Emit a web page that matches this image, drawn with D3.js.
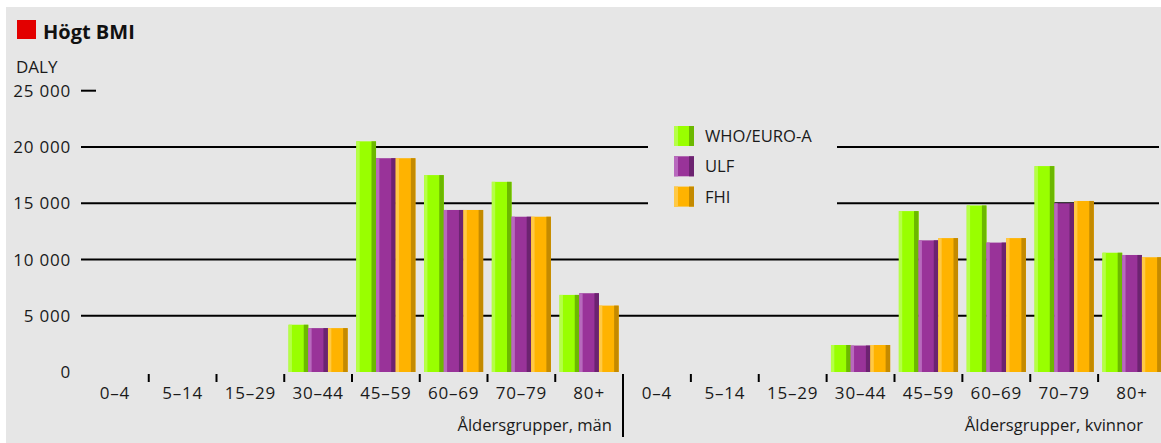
<!DOCTYPE html>
<html>
<head>
<meta charset="utf-8">
<script src="https://cdn.jsdelivr.net/npm/d3@7"></script>
<style>
  html, body { margin: 0; padding: 0; background: #ffffff; }
  svg { display: block; }
  text { font-family: "Open Sans", "Noto Sans", sans-serif; fill: #1a1a1a; }
  .num { letter-spacing: 0.8px; }
</style>
</head>
<body>
<svg id="chart" width="1161" height="443"></svg>
<script>
// Age groups shared by both panels
const ageGroups = ["0–4", "5–14", "15–29", "30–44", "45–59", "60–69", "70–79", "80+"];

// Series names shown in the legend
const seriesNames = ["WHO/EURO-A", "ULF", "FHI"];

// DALY attributable to high BMI, men
const menWHO = [0, 0, 0, 4200, 20500, 17500, 16900, 6850];
const menULF = [0, 0, 0, 3900, 19000, 14400, 13800, 7000];
const menFHI = [0, 0, 0, 3900, 19000, 14400, 13800, 5900];

// DALY attributable to high BMI, women
const womenWHO = [0, 0, 0, 2400, 14300, 14800, 18300, 10600];
const womenULF = [0, 0, 0, 2350, 11700, 11500, 15000, 10400];
const womenFHI = [0, 0, 0, 2400, 11900, 11900, 15200, 10200];

// Y axis ticks
const yTicks = [0, 5000, 10000, 15000, 20000, 25000];

// Panel titles
const panelTitles = ["Åldersgrupper, män", "Åldersgrupper, kvinnor"];

// Bar colours: [light edge, face, dark edge]
const palette = {
  "WHO/EURO-A": ["#b5ff47", "#99ff00", "#6cb800"],
  "ULF":        ["#b869bd", "#993399", "#6c2370"],
  "FHI":        ["#ffc945", "#ffb300", "#c48a00"]
};

const svg = d3.select("#chart");

// background panel
svg.append("rect")
  .attr("x", 6).attr("y", 7).attr("width", 1155).attr("height", 436)
  .attr("fill", "#e6e6e6");

// title
svg.append("rect").attr("x", 17).attr("y", 20).attr("width", 19).attr("height", 19).attr("fill", "#e30000");
svg.append("text").attr("x", 43).attr("y", 39)
  .style("font-size", "20px").style("font-weight", "700").style("fill", "#111")
  .text("Högt BMI");

svg.append("text").attr("x", 16).attr("y", 73).style("font-size", "17px").text("DALY");

// scales
const y = d3.scaleLinear().domain([0, 25000]).range([372, 90.7]);
const plotLeft = 81, divider = 623, plotRight = 1166;

const panels = [
  { range: [plotLeft, divider], values: [menWHO, menULF, menFHI], title: panelTitles[0] },
  { range: [divider, plotRight], values: [womenWHO, womenULF, womenFHI], title: panelTitles[1] }
];

const fmt = v => d3.format(",")(v).replace(/,/g, " ");

// legend area (gridlines are interrupted behind it)
const legendBox = { x0: 648, x1: 837, y0: 118, y1: 212 };

// y tick labels and gridlines
const grid = svg.append("g");
yTicks.forEach(t => {
  const yy = y(t);
  grid.append("text")
    .attr("class", "num")
    .attr("x", 71).attr("y", yy).attr("dy", "0.36em")
    .attr("text-anchor", "end").style("font-size", "17px")
    .text(fmt(t));
  if (t === 0) return;
  let segs;
  if (t === 25000) segs = [[plotLeft, 96]];
  else if (yy > legendBox.y0 && yy < legendBox.y1) segs = [[plotLeft, legendBox.x0], [legendBox.x1, 1159]];
  else segs = [[plotLeft, 1159]];
  segs.forEach(s => {
    grid.append("line")
      .attr("x1", s[0]).attr("x2", s[1]).attr("y1", yy).attr("y2", yy)
      .attr("stroke", "#000").attr("stroke-width", 2);
  });
});

// bars
panels.forEach((p, pi) => {
  const x0 = d3.scaleBand().domain(ageGroups).range(p.range);
  const x1 = d3.scaleBand().domain(seriesNames).range([0, x0.bandwidth()]).paddingOuter(0.22);
  const g = svg.append("g");

  ageGroups.forEach((age, ai) => {
    seriesNames.forEach((s, si) => {
      const v = p.values[si][ai];
      if (!v) return;
      const bx = x0(age) + x1(s);
      const bw = x1.bandwidth();
      const top = y(v), h = y(0) - y(v);
      const [lc, fc, dc] = palette[s];
      g.append("rect").attr("x", bx).attr("y", top).attr("width", bw).attr("height", h).attr("fill", fc);
      g.append("rect").attr("x", bx).attr("y", top).attr("width", bw * 0.17).attr("height", h).attr("fill", lc);
      g.append("rect").attr("x", bx + bw * 0.77).attr("y", top).attr("width", bw * 0.23).attr("height", h).attr("fill", dc);
    });
  });

  // category ticks between groups
  ageGroups.slice(1).forEach(age => {
    g.append("line")
      .attr("x1", x0(age)).attr("x2", x0(age)).attr("y1", 374).attr("y2", 382)
      .attr("stroke", "#000").attr("stroke-width", 2);
  });

  // category labels
  ageGroups.forEach(age => {
    g.append("text")
      .attr("class", "num")
      .attr("x", x0(age) + x0.bandwidth() / 2).attr("y", 399)
      .attr("text-anchor", "middle").style("font-size", "17px")
      .text(age);
  });

  // panel title
  g.append("text")
    .attr("x", pi === 0 ? p.range[1] - 11 : 1143).attr("y", 431)
    .attr("text-anchor", "end").style("font-size", "16.6px")
    .text(p.title);
});

// panel divider
svg.append("line")
  .attr("x1", divider).attr("x2", divider).attr("y1", 374).attr("y2", 437)
  .attr("stroke", "#000").attr("stroke-width", 2);

// legend
const legend = svg.append("g").attr("transform", "translate(674,126)");
seriesNames.forEach((s, i) => {
  const [lc, fc, dc] = palette[s];
  const lg = legend.append("g").attr("transform", `translate(0,${i * 30.3})`);
  lg.append("rect").attr("width", 20).attr("height", 20).attr("fill", fc);
  lg.append("rect").attr("width", 4).attr("height", 20).attr("fill", lc);
  lg.append("rect").attr("x", 15).attr("width", 5).attr("height", 20).attr("fill", dc);
  lg.append("text").attr("x", 31).attr("y", 10).attr("dy", "0.36em")
    .style("font-size", "16.6px").text(s);
});
</script>
</body>
</html>
